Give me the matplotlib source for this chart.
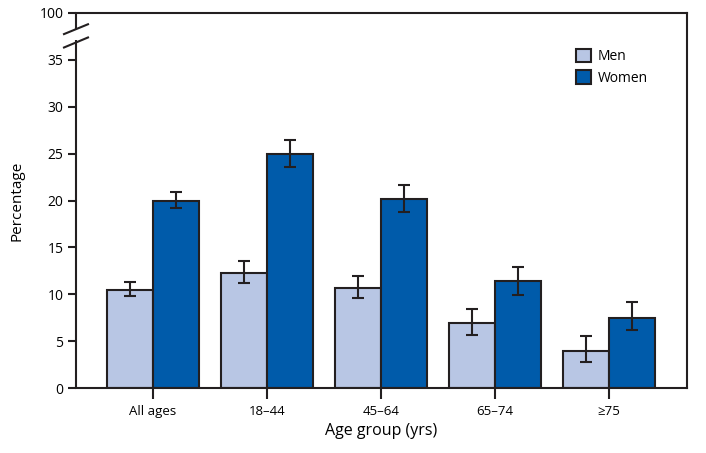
import matplotlib
matplotlib.use("Agg")
import matplotlib.pyplot as plt
import numpy as np

plt.rcParams['font.family'] = ['Open Sans', 'DejaVu Sans']

categories = ["All ages", "18\u201344", "45\u201364", "65\u201374", "\u226575"]
men = [10.5, 12.3, 10.7, 6.9, 4.0]
men_lo = [9.8, 11.2, 9.6, 5.7, 2.8]
men_hi = [11.3, 13.5, 12.0, 8.4, 5.6]
women = [20.0, 25.0, 20.2, 11.4, 7.5]
women_lo = [19.2, 23.6, 18.75, 9.9, 6.2]
women_hi = [20.9, 26.5, 21.7, 12.95, 9.2]
ytick_vals = [0, 5, 10, 15, 20, 25, 30, 35, 40]
ytick_labels = ["0", "5", "10", "15", "20", "25", "30", "35", "100"]

men_color = "#B8C6E4"
women_color = "#005BAA"
edge = "#231F20"

fig = plt.figure(figsize=(7.06, 4.53), dpi=100)
ax = fig.add_axes([76/706, 1-388/453, (687-76)/706, (388-13)/453])

x = np.arange(len(categories))
w = 0.40
men_err = [np.array(men) - np.array(men_lo), np.array(men_hi) - np.array(men)]
women_err = [np.array(women) - np.array(women_lo), np.array(women_hi) - np.array(women)]
ax.bar(x - w/2, men, w, color=men_color, edgecolor=edge, linewidth=1.5, label="Men", zorder=2)
ax.bar(x + w/2, women, w, color=women_color, edgecolor=edge, linewidth=1.5, label="Women", zorder=2)
ax.errorbar(x - w/2, men, yerr=men_err, fmt='none', ecolor=edge, elinewidth=1.5, capsize=4.3, capthick=1.5, zorder=3)
ax.errorbar(x + w/2, women, yerr=women_err, fmt='none', ecolor=edge, elinewidth=1.5, capsize=4.3, capthick=1.5, zorder=3)

ax.set_xlim(-0.675, 4.685)
ax.set_ylim(0, 40)
ax.set_xticks(x)
ax.set_xticklabels(categories, fontsize=9.5)
ax.set_yticks(ytick_vals)
ax.set_yticklabels(ytick_labels, fontsize=10)
ax.tick_params(axis='y', direction='out', length=6, width=1.5, color=edge, pad=3)
ax.tick_params(axis='x', direction='out', length=8, width=1.5, color=edge, pad=4)
for s in ax.spines.values():
    s.set_linewidth(1.5)
    s.set_color(edge)
ax.spines['left'].set_visible(False)

# left spine with break
ppu = 611/5.36
dx = 12/ppu
xl = -0.675
ax.plot([xl, xl], [0, 37.1], color=edge, lw=1.5, clip_on=False, solid_capstyle='butt', zorder=5)
ax.plot([xl, xl], [38.3, 40], color=edge, lw=1.5, clip_on=False, solid_capstyle='butt', zorder=5)
ax.plot([xl - dx, xl + dx], [37.75, 38.8], color=edge, lw=1.5, clip_on=False, zorder=5)
ax.plot([xl - dx, xl + dx], [36.32, 37.39], color=edge, lw=1.5, clip_on=False, zorder=5)

ax.set_ylabel("Percentage", fontsize=11, labelpad=11)
ax.set_xlabel("Age group (yrs)", fontsize=11.5, labelpad=4)

leg = ax.legend(loc='upper left', bbox_to_anchor=((570-76)/611, (388-43)/375), frameon=False,
                fontsize=10, handlelength=1.1, handleheight=1.1, handletextpad=0.5,
                labelspacing=0.45, borderaxespad=0)

fig.savefig("out.png", dpi=100)
